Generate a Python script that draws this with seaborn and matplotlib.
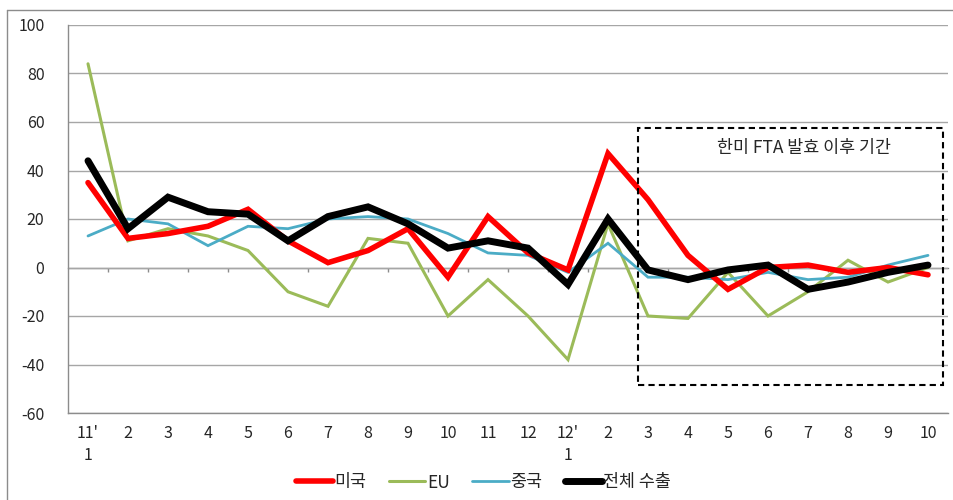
import numpy as np
import pandas as pd
import matplotlib
matplotlib.use("Agg")
import matplotlib.pyplot as plt
from matplotlib.lines import Line2D
from matplotlib.patches import Rectangle
import seaborn as sns

# ---- data ----
months = ["11'\n1", "2", "3", "4", "5", "6", "7", "8", "9", "10", "11", "12",
          "12'\n1", "2", "3", "4", "5", "6", "7", "8", "9", "10"]
usa = [35, 12, 14, 17, 24, 11, 2, 7, 16, -4, 21, 6, -1, 47, 28, 5, -9, 0, 1, -2, 0, -3]
eu = [84, 11, 16, 13, 7, -10, -16, 12, 10, -20, -5, -20, -38, 18, -20, -21, -2, -20, -10, 3, -6, 0]
china = [13, 20, 18, 9, 17, 16, 20, 21, 20, 14, 6, 5, -2, 10, -4, -4, -5, -2, -5, -4, 1, 5]
total = [44, 16, 29, 23, 22, 11, 21, 25, 18, 8, 11, 8, -7, 20, -1, -5, -1, 1, -9, -6, -2, 1]
series_names = ["미국", "EU", "중국", "전체 수출"]
yticks = [-60, -40, -20, 0, 20, 40, 60, 80, 100]

colors = {"미국": "#FF0000", "EU": "#9BBB59", "중국": "#4BACC6", "전체 수출": "#000000"}
widths = {"미국": 4.0, "EU": 2.2, "중국": 2.0, "전체 수출": 5.0}

df = pd.DataFrame({
    "idx": np.tile(np.arange(len(months)), 4),
    "value": usa + eu + china + total,
    "series": np.repeat(series_names, len(months)),
})

sns.set_style("white")
plt.rcParams["font.family"] = ["Noto Sans CJK KR", "DejaVu Sans"]

fig = plt.figure(figsize=(9.54, 5.0), dpi=100)
ax = fig.add_axes([68 / 954, 1 - 413 / 500, (948 - 68) / 954, (413 - 25) / 500])

draw_order = ["EU", "중국", "미국", "전체 수출"]
for name in draw_order:
    sub = df[df["series"] == name]
    sns.lineplot(data=sub, x="idx", y="value", ax=ax, color=colors[name],
                 linewidth=widths[name], legend=False, zorder=3,
                 solid_joinstyle="miter")

ax.set_xlim(-0.5, len(months) - 0.5)
ax.set_ylim(-60, 100)
ax.set_yticks(yticks)
ax.set_yticklabels([str(v) for v in yticks])
ax.set_xticks(np.arange(len(months)))
ax.set_xticklabels(months, linespacing=1.35, va="top")
ax.set_xlabel("")
ax.set_ylabel("")

grid_c = "#A6A6A6"
ax.yaxis.grid(True, color=grid_c, linewidth=1.0)
ax.xaxis.grid(False)
for s in ["top", "right"]:
    ax.spines[s].set_visible(False)
for s in ["left", "bottom"]:
    ax.spines[s].set_color("#8C8C8C")
    ax.spines[s].set_linewidth(1.0)

ax.tick_params(axis="y", direction="out", length=8, width=1, color=grid_c,
               labelsize=11.5, labelcolor="#262626", pad=9)
ax.tick_params(axis="x", length=0, labelsize=11.5, labelcolor="#262626", pad=9)

# category axis crossing at zero with boundary tick marks
sec = ax.secondary_xaxis(60 / 160)
sec.set_xticks(np.arange(0.5, len(months) - 1, 1.0))
sec.set_xticklabels([])
sec.tick_params(axis="x", which="major", direction="out", length=3, width=1, color="#8C8C8C")
sec.tick_params(axis="x", which="minor", length=0)
sec.spines["bottom"].set_color("#8C8C8C")
sec.spines["bottom"].set_linewidth(1.0)

# dashed box marking the post-FTA period
box = Rectangle((13.74, -48.6), 7.63, 106.1, fill=False, edgecolor="black",
                linewidth=1.5, linestyle=(0, (3, 2)), zorder=4, clip_on=False)
ax.add_patch(box)
ax.text(17.9, 49.4, "한미 FTA 발효 이후 기간", ha="center", va="center",
        fontsize=12.5, color="#262626", zorder=5)

# legend
handles = [Line2D([0], [0], color=colors[n], linewidth=widths[n]) for n in series_names]
fig.legend(handles, series_names, loc="center", bbox_to_anchor=(0.507, 0.035),
           ncol=4, frameon=False, fontsize=12.5, handlelength=2.1,
           handletextpad=0.1, columnspacing=1.3)

# outer chart frame (left and top edges visible)
fig.add_artist(Line2D([7 / 954, 7 / 954], [0, 1 - 10 / 500], transform=fig.transFigure,
                      color="#8C8C8C", linewidth=1.0))
fig.add_artist(Line2D([7 / 954, 1.0], [1 - 10 / 500, 1 - 10 / 500], transform=fig.transFigure,
                      color="#8C8C8C", linewidth=1.0))

fig.savefig("out.png", dpi=100)
